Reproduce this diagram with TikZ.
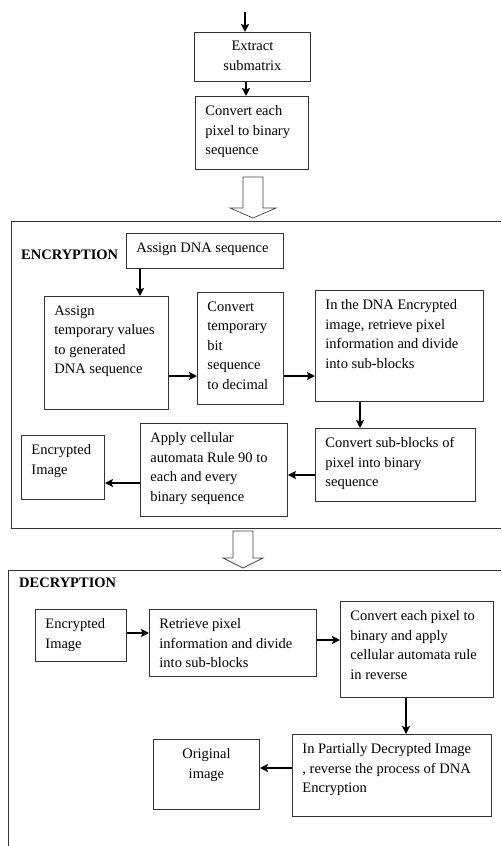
\documentclass[tikz,border=0pt]{standalone}
\usepackage{fontspec}
\setmainfont{Liberation Serif}
\usetikzlibrary{arrows,arrows.meta,positioning,calc}
\tikzstyle{aS}=[every edge/.style={draw,->,>={Stealth[length=8pt,width=8pt,inset=1.5pt]},line width=1.6pt}]
\tikzstyle{Abox}=[draw=black!80,line width=0.9pt,anchor=north west,inner xsep=10pt,inner ysep=0pt,
                font=\fontsize{14.5}{19.6}\selectfont]
\tikzstyle{Aframe}=[draw=black!80,line width=0.9pt]
\tikzstyle{Ahollow}=[draw=black!75,line width=0.7pt,fill=white]
\tikzstyle{Atitle}=[anchor=west,inner sep=0pt,font=\fontsize{14.5}{17}\selectfont\bfseries]
\newcommand{\bx}[6]{\node[Abox] (#1) at (#2,-#3) {\parbox[c][#5pt][t]{\dimexpr#4pt-20pt\relax}{\vspace*{9pt}\raggedright #6}};}

\begin{document}
\begin{tikzpicture}[aS,x=1pt,y=1pt]
	\useasboundingbox (0,0) rectangle (501,-846);
	% top part
	\coordinate (in) at (245,-12);
	\bx{ext}{194}{32}{116}{49}{\centering Extract\\ submatrix}
	\bx{pix}{195}{96}{113}{73}{Convert each\\ pixel to binary\\ sequence}
	\path (in) edge (in |- ext.north);
	\path ([xshift=52pt]ext.south west) edge ([xshift=52pt]ext.south west |- pix.north);
	\draw[Ahollow] (243,-177) -- (263,-177) -- (263,-208) -- (276,-208) -- (253,-218)
		-- (230,-208) -- (243,-208) -- cycle;
	% encryption
	\draw[Aframe] (501,-221) -- (11,-221) -- (11,-528) -- (501,-528);
	\node[Atitle] (encl) at (21,-255) {ENCRYPTION};
	\bx{dna}{126}{233}{157}{35}{Assign DNA sequence}
	\bx{tmp}{44}{296}{124}{113}{Assign\\ temporary values\\ to generated\\ DNA sequence}
	\bx{bit}{197}{292}{86}{112}{Convert\\ temporary\\ bit\\ sequence\\ to decimal}
	\bx{ind}{315}{290}{168}{111}{In the DNA Encrypted\\ image, retrieve pixel\\ information and divide\\ into sub-blocks}
	\bx{sub}{315}{428}{160}{73}{Convert sub-blocks of\\ pixel into binary\\ sequence}
	\bx{app}{140}{423}{147}{93}{Apply cellular\\ automata Rule 90 to\\ each and every\\ binary sequence}
	\bx{enc}{21}{435}{83}{64}{Encrypted\\ Image}
	\path ([xshift=14pt]dna.south west) edge ([xshift=14pt]dna.south west |- tmp.north);
	\path (tmp.east |- 0,-376) edge (bit.west |- 0,-376)
		(bit.east |- 0,-376) edge (ind.west |- 0,-376)
		(ind.south -| 360,0) edge (sub.north -| 360,0)
		(sub.west |- 0,-475) edge (app.east |- 0,-475)
		(app.west |- 0,-483) edge (enc.east |- 0,-483);
	\draw[Ahollow] (233,-531) -- (253,-531) -- (253,-558) -- (263,-558) -- (243,-568)
		-- (223,-558) -- (233,-558) -- cycle;
	% decryption
	\draw[Aframe] (501,-570) -- (8,-570) -- (8,-846);
	\node[Atitle] (decl) at (19,-583) {DECRYPTION};
	\bx{denc}{35}{609}{91}{52}{Encrypted\\ Image}
	\bx{ret}{149}{609}{167}{67}{Retrieve pixel\\ information and divide\\ into sub-blocks}
	\bx{rev}{340}{601}{153}{96}{Convert each pixel to\\ binary and apply\\ cellular automata rule\\ in reverse}
	\bx{part}{292}{734}{199}{82}{In Partially Decrypted Image\\ , reverse the process of DNA\\ Encryption}
	\bx{orig}{153}{739}{106}{70}{\centering Original\\ image}
	\path (denc.east |- 0,-633) edge (ret.west |- 0,-633)
		(ret.east |- 0,-640) edge (rev.west |- 0,-640)
		(rev.south -| 406,0) edge (part.north -| 406,0)
		(part.west |- 0,-768) edge (orig.east |- 0,-768);
\end{tikzpicture}
\end{document}
